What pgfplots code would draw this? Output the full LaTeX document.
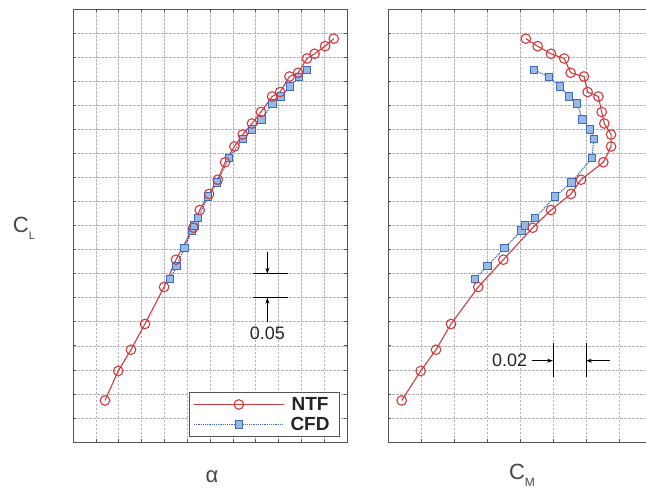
\documentclass[border=0pt]{standalone}
\usepackage{pgfplots}
\pgfplotsset{compat=1.18}
\usepackage{fontspec}
\setmainfont{Liberation Sans}
\usetikzlibrary{arrows.meta}

\definecolor{ntfred}{RGB}{208,58,62}
\definecolor{cfdblue}{RGB}{62,108,186}
\definecolor{cfdfill}{RGB}{150,185,230}
\definecolor{framegray}{RGB}{85,85,85}
\definecolor{labgray}{RGB}{70,70,70}

\pgfplotsset{
  panel/.style={
    scale only axis, height=433pt,
    ymin=0, ymax=0.9, ytick distance=0.05,
    xticklabels={}, yticklabels={},
    grid=major,
    grid style={gray!60, dash pattern=on 2.5pt off 1.5pt, line width=0.5pt},
    axis line style={framegray, line width=0.9pt},
    tick align=inside, major tick length=3pt,
    tick style={framegray, line width=0.6pt},
    clip=false,
  },
  ntf/.style={ntfred, line width=1.1pt, mark=o, mark size=4.8pt,
    mark options={solid, line width=1.1pt}},
  cfd/.style={cfdblue, line width=1.2pt, densely dotted, mark=square*, mark size=3.8pt,
    mark options={solid, fill=cfdfill, draw=cfdblue, line width=0.9pt}},
}

% alpha (deg), CL
\pgfplotstableread{
a CL
-0.60 0.0863
-0.02 0.1476
0.54 0.1918
1.15 0.2453
1.99 0.3222
2.51 0.3789
3.27 0.4454
3.55 0.4822
3.96 0.5155
4.34 0.5452
4.66 0.5814
5.07 0.6142
5.43 0.6391
5.84 0.6620
6.23 0.6859
6.72 0.7181
7.07 0.7275
7.48 0.7597
7.86 0.7674
8.25 0.7971
8.58 0.8069
9.04 0.8227
9.42 0.8383
}\ntfa

\pgfplotstableread{
a CL
2.25 0.3388
2.53 0.3658
2.88 0.4032
3.21 0.4396
3.32 0.4496
3.48 0.4656
3.91 0.5103
4.31 0.5394
4.83 0.5903
5.45 0.6298
5.84 0.6495
6.26 0.6703
6.74 0.7036
7.11 0.7181
7.50 0.7389
7.90 0.7587
8.25 0.7732
}\cfda

% CM, CL
\pgfplotstableread{
CM CL
-0.0517 0.0863
-0.0402 0.1476
-0.0309 0.1918
-0.0218 0.2453
-0.0053 0.3222
0.0099 0.3789
0.0277 0.4454
0.0388 0.4822
0.0509 0.5155
0.0570 0.5452
0.0705 0.5814
0.0752 0.6142
0.0752 0.6391
0.0711 0.6620
0.0695 0.6859
0.0675 0.7181
0.0610 0.7275
0.0588 0.7597
0.0507 0.7674
0.0468 0.7971
0.0388 0.8069
0.0307 0.8227
0.0236 0.8383
}\ntfm

\pgfplotstableread{
CM CL
-0.0073 0.3388
0.0002 0.3658
0.0106 0.4032
0.0210 0.4396
0.0230 0.4496
0.0291 0.4656
0.0412 0.5103
0.0513 0.5394
0.0635 0.5903
0.0648 0.6298
0.0624 0.6495
0.0580 0.6703
0.0544 0.7036
0.0497 0.7181
0.0442 0.7389
0.0376 0.7587
0.0285 0.7732
}\cfdm

\begin{document}
\begin{tikzpicture}
\begin{axis}[panel, at={(73pt,49pt)}, anchor=south west, width=274pt,
  xmin=-2, xmax=10, xtick distance=1,
  reverse legend,
  legend style={at={(axis description cs:1,0)}, anchor=south east,
    xshift=-7pt, yshift=5pt, draw=framegray, line width=0.9pt,
    font=\fontsize{19}{22}\selectfont\bfseries, text=black!85,
    inner xsep=4pt, inner ysep=3pt, row sep=1pt,
    nodes={inner xsep=6pt, inner ysep=2pt}},
  legend image code/.code={\draw[mark repeat=2, mark phase=2, #1]
    plot coordinates {(0pt,0pt) (45pt,0pt) (90pt,0pt)};}]
\addplot[cfd] table[x=a, y=CL] {\cfda};
\addlegendentry{CFD}
\addplot[ntf] table[x=a, y=CL] {\ntfa};
\addlegendentry{NTF}
% 0.05 scale marker
\draw[black, line width=0.9pt] (axis cs:5.87,0.35) -- (axis cs:7.40,0.35);
\draw[black, line width=0.9pt] (axis cs:5.87,0.30) -- (axis cs:7.40,0.30);
\draw[black, line width=0.8pt, -{Stealth[length=6pt,width=4pt]}] (axis cs:6.51,0.3955) -- (axis cs:6.51,0.35);
\draw[black, line width=0.8pt, -{Stealth[length=6pt,width=4pt]}] (axis cs:6.51,0.250) -- (axis cs:6.51,0.30);
\node[font=\fontsize{18}{18}\selectfont, text=black!85] at (axis cs:6.51,0.226) {0.05};
\end{axis}

\begin{axis}[panel, at={(388pt,49pt)}, anchor=south west, width=264pt,
  xmin=-0.06, xmax=0.10, xtick distance=0.02]
\addplot[cfd] table[x=CM, y=CL] {\cfdm};
\addplot[ntf] table[x=CM, y=CL] {\ntfm};
% 0.02 scale marker
\draw[black, line width=0.9pt] (axis cs:0.04,0.136) -- (axis cs:0.04,0.206);
\draw[black, line width=0.9pt] (axis cs:0.06,0.136) -- (axis cs:0.06,0.206);
\draw[black, line width=0.8pt, -{Stealth[length=6pt,width=4pt]}] (axis cs:0.0271,0.169) -- (axis cs:0.04,0.169);
\draw[black, line width=0.8pt, -{Stealth[length=6pt,width=4pt]}] (axis cs:0.0745,0.169) -- (axis cs:0.06,0.169);
\node[anchor=east, inner sep=0pt, font=\fontsize{18}{18}\selectfont, text=black!85] at (axis cs:0.0245,0.169) {0.02};
\end{axis}

\node[text=labgray, font=\fontsize{22}{22}\selectfont] at (24pt,263pt)
  {C\raisebox{-0.6ex}{\fontsize{11}{11}\selectfont L}};
\node[text=labgray, font=\fontsize{22}{22}\selectfont] at (212pt,14pt) {α};
\node[text=labgray, font=\fontsize{22}{22}\selectfont] at (522pt,16pt)
  {C\raisebox{-0.6ex}{\fontsize{12}{12}\selectfont M}};

\pgfresetboundingbox
\useasboundingbox (0,0) rectangle (646pt,491pt);
\end{tikzpicture}
\end{document}
